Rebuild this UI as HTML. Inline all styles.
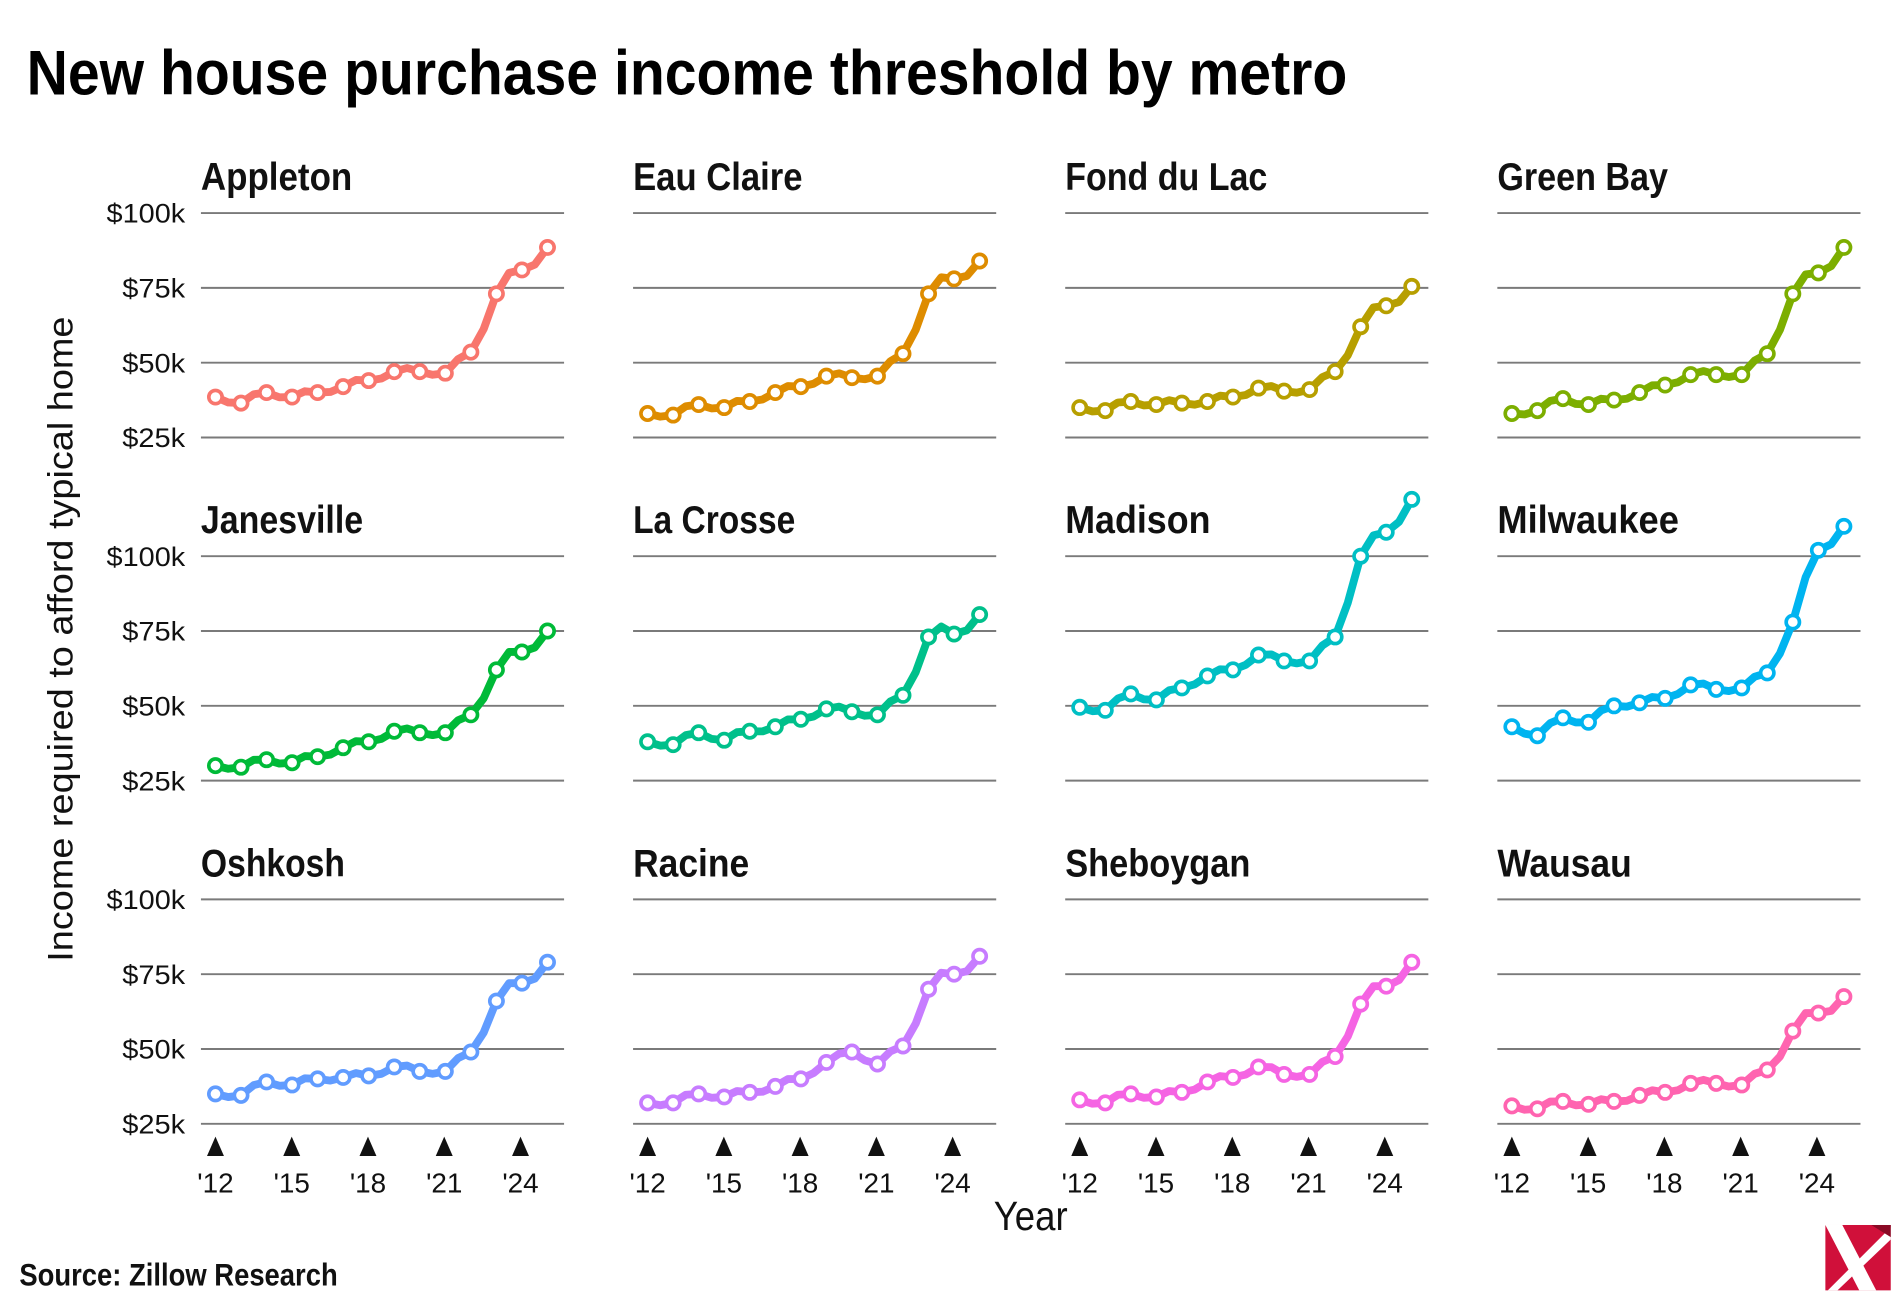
<!DOCTYPE html>
<html><head><meta charset="utf-8"><style>
html,body{margin:0;padding:0;background:#fff;}
svg{display:block;}
text{font-family:"Liberation Sans Narrow","Liberation Sans",sans-serif;}
</style></head><body>
<svg id="s" width="1898" height="1298" viewBox="0 0 1568 1072.3" xmlns="http://www.w3.org/2000/svg">
<rect width="1568" height="1073" fill="#fff"/>
<text x="22" y="78" font-size="52" font-weight="bold" fill="#000" textLength="1091" lengthAdjust="spacingAndGlyphs">New house purchase income threshold by metro</text>
<text transform="translate(60,528) rotate(-90)" text-anchor="middle" font-size="29" fill="#111" textLength="533" lengthAdjust="spacingAndGlyphs">Income required to afford typical home</text>
<text x="821" y="1016" font-size="34" fill="#111" textLength="61" lengthAdjust="spacingAndGlyphs">Year</text>
<text x="16" y="1062" font-size="26" font-weight="bold" fill="#111" textLength="263" lengthAdjust="spacingAndGlyphs">Source: Zillow Research</text>
<g>
<rect x="1508" y="1012" width="54" height="54" fill="#d0103a"/>
<path d="M1508 1012 L1522 1012 L1550 1066 L1536 1066 Z" fill="#fff"/>
<path d="M1562 1014 L1562 1024 L1518 1066 L1510 1066 Z" fill="#fff"/>
<path d="M1546 1012 L1562 1012 L1562 1022 Z" fill="#8a0a25"/>
</g>
<g id="panels"></g>
</svg>
<script>
var cols=[166,523,880,1237],row0=[176,459.5,743];
var names=["Appleton","Eau Claire","Fond du Lac","Green Bay","Janesville","La Crosse","Madison","Milwaukee","Oshkosh","Racine","Sheboygan","Wausau"];
var widths=[125,140,167,141,134,134,120,150,119,96,153,111];
var colors=["#f8766d","#de8c00","#b79f00","#7cae00","#00ba38","#00c08b","#00bfc4","#00b4f0","#619cff","#c77cff","#f564e3","#ff64b0"];
var data=[
[38.5,36.5,40,38.5,40,42,44,47,47,46.5,53.5,73,81,88.5],
[33,32.5,36,35,37,40,42,45.5,45,45.5,53,73,78,84],
[35,34,37,36,36.5,37,38.5,41.5,40.5,41,47,62,69,75.5],
[33,34,38,36,37.5,40,42.5,46,46,46,53,73,80,88.5],
[30,29.5,32,31,33,36,38,41.5,41,41,47,62,68,75],
[38,37,41,38.5,41.5,43,45.5,49,48,47,53.5,73,74,80.5],
[49.5,48.5,54,52,56,60,62,67,65,65,73,100,108,119],
[43,40,46,44.5,50,51,52.5,57,55.5,56,61,78,102,110],
[35,34.5,39,38,40,40.5,41,44,42.5,42.5,49,66,72,79],
[32,32,35,34,35.5,37.5,40,45.5,49,45,51,70,75,81],
[33,32,35,34,35.5,39,40.5,44,41.5,41.5,47.5,65,71,79],
[31,30,32.5,31.5,32.5,34.5,35.5,38.5,38.5,38,43,56,62,67.5]];
var g=document.getElementById("panels"),h="";
for(var i=0;i<12;i++){
 var c=i%4,r=Math.floor(i/4),x0=cols[c],y100=row0[r];
 var Y=function(v){return y100+(100-v)*61.8/25;};
 h+='<text x="'+x0+'" y="'+(y100-19)+'" font-size="32" font-weight="bold" fill="#111" textLength="'+widths[i]+'" lengthAdjust="spacingAndGlyphs">'+names[i]+'</text>';
 for(var k=0;k<4;k++){var yy=y100+k*61.8;
  h+='<line x1="'+x0+'" x2="'+(x0+300)+'" y1="'+yy+'" y2="'+yy+'" stroke="#7a7a7a" stroke-width="1.6"/>';
  if(c==0)h+='<text x="153" y="'+(yy+8)+'" text-anchor="end" font-size="22" fill="#111" textLength="'+(k==0?65:52)+'" lengthAdjust="spacingAndGlyphs">'+['$100k','$75k','$50k','$25k'][k]+'</text>';}
 if(r==2){var yrs=["'12","'15","'18","'21","'24"];
  for(var k=0;k<5;k++){var tx=x0+12+k*63;
   h+='<path d="M'+(tx-7)+' 955 L'+tx+' 939 L'+(tx+7)+' 955Z" fill="#111"/>';
   h+='<text x="'+tx+'" y="985" text-anchor="middle" font-size="23" fill="#111" textLength="30" lengthAdjust="spacingAndGlyphs">'+yrs[k]+'</text>';}}
 var d=data[i],pts=[],X=function(t){return x0+12+t*21.1;};
 for(var k=0;k<d.length;k++){pts.push([X(k),Y(d[k])]);
  if(k<d.length-1){var m=(d[k]+d[k+1])/2+((k%2)?1.2:-0.8)*(k>=10?2.5:1);pts.push([X(k+0.5),Y(m)]);}}
 h+='<polyline points="'+pts.map(function(p){return p[0].toFixed(1)+','+p[1].toFixed(1)}).join(' ')+'" fill="none" stroke="'+colors[i]+'" stroke-width="6.5" stroke-linejoin="round" stroke-linecap="round"/>';
 for(var k=0;k<d.length;k++)h+='<circle cx="'+X(k).toFixed(1)+'" cy="'+Y(d[k]).toFixed(1)+'" r="5.5" fill="#fff" stroke="'+colors[i]+'" stroke-width="3"/>';
}
g.innerHTML=h;
</script>
</body></html>
